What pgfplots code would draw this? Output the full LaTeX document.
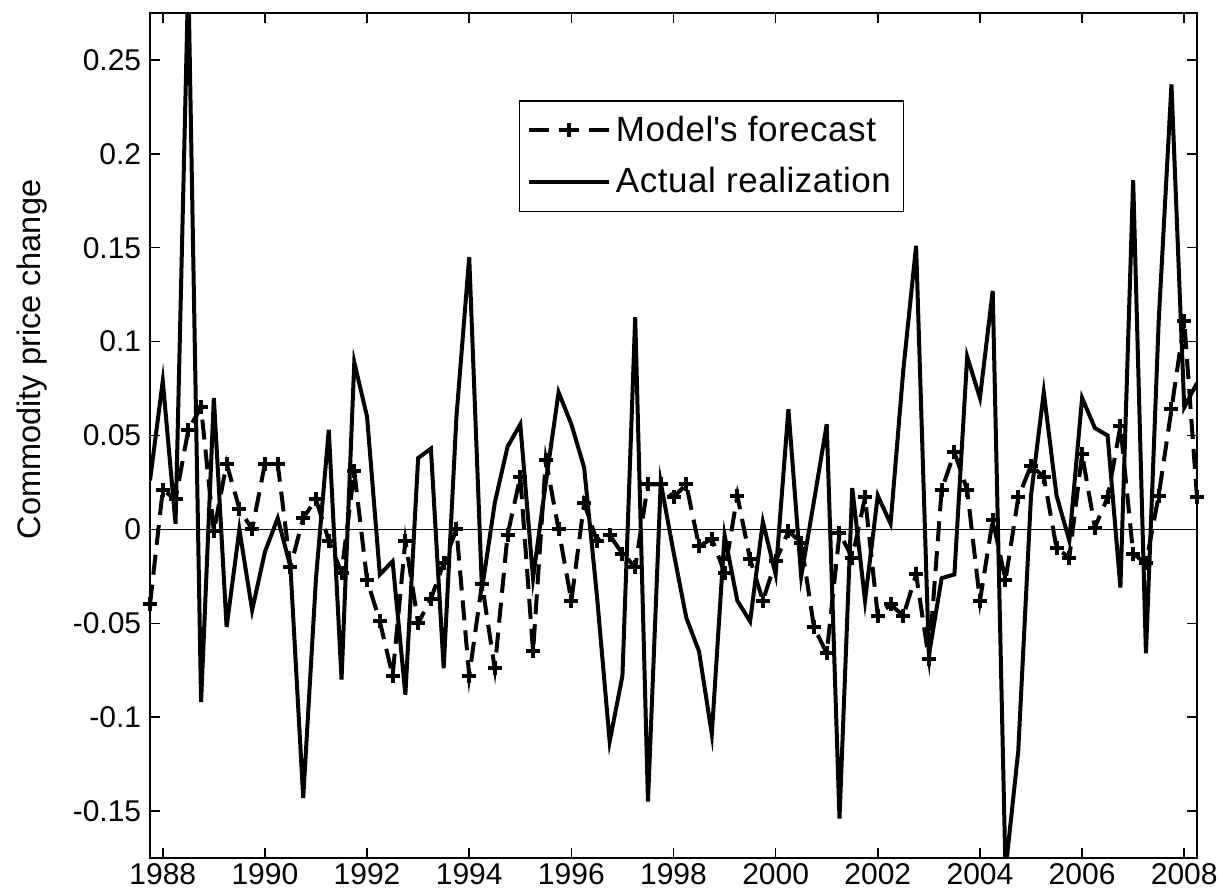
\documentclass[border=0pt]{standalone}
\usepackage{fontspec}
\setmainfont{Liberation Sans}
\newfontfamily\legendfont[LetterSpace=1.5]{Liberation Sans}
\usepackage{pgfplots}
\usepackage{pgfplotstable}
\pgfplotsset{compat=1.18}

% quarterly data, 1987Q4 .. 2008Q2
\pgfplotstableread{
t       forecast actual
1987.75 -0.040  0.026
1988.00  0.021  0.079
1988.25  0.016  0.003
1988.50  0.053  0.295
1988.75  0.065 -0.092
1989.00 -0.001  0.070
1989.25  0.035 -0.052
1989.50  0.011  0.000
1989.75  0.000 -0.043
1990.00  0.035 -0.012
1990.25  0.035  0.006
1990.50 -0.020 -0.020
1990.75  0.006 -0.143
1991.00  0.016 -0.026
1991.25 -0.006  0.053
1991.50 -0.023 -0.080
1991.75  0.031  0.089
1992.00 -0.027  0.060
1992.25 -0.049 -0.024
1992.50 -0.078 -0.017
1992.75 -0.006 -0.088
1993.00 -0.050  0.038
1993.25 -0.037  0.043
1993.50 -0.018 -0.074
1993.75  0.000  0.060
1994.00 -0.078  0.145
1994.25 -0.029 -0.032
1994.50 -0.074  0.014
1994.75 -0.003  0.044
1995.00  0.028  0.056
1995.25 -0.065 -0.026
1995.50  0.037  0.025
1995.75  0.000  0.073
1996.00 -0.038  0.056
1996.25  0.014  0.033
1996.50 -0.006 -0.035
1996.75 -0.003 -0.113
1997.00 -0.013 -0.078
1997.25 -0.020  0.113
1997.50  0.024 -0.145
1997.75  0.024  0.025
1998.00  0.017 -0.012
1998.25  0.024 -0.047
1998.50 -0.009 -0.065
1998.75 -0.005 -0.109
1999.00 -0.023 -0.003
1999.25  0.018 -0.038
1999.50 -0.016 -0.049
1999.75 -0.038  0.004
2000.00 -0.017 -0.024
2000.25 -0.001  0.064
2000.50 -0.007 -0.025
2000.75 -0.052  0.015
2001.00 -0.066  0.056
2001.25 -0.002 -0.154
2001.50 -0.015  0.022
2001.75  0.017 -0.038
2002.00 -0.046  0.018
2002.25 -0.040  0.003
2002.50 -0.046  0.085
2002.75 -0.024  0.151
2003.00 -0.069 -0.067
2003.25  0.021 -0.026
2003.50  0.041 -0.024
2003.75  0.021  0.092
2004.00 -0.038  0.070
2004.25  0.005  0.127
2004.50 -0.027 -0.182
2004.75  0.017 -0.118
2005.00  0.034  0.018
2005.25  0.028  0.073
2005.50 -0.010  0.018
2005.75 -0.015 -0.006
2006.00  0.040  0.070
2006.25  0.001  0.054
2006.50  0.017  0.050
2006.75  0.055 -0.031
2007.00 -0.013  0.186
2007.25 -0.018 -0.066
2007.50  0.018  0.111
2007.75  0.064  0.237
2008.00  0.111  0.065
2008.25  0.017  0.078
}\commodity

\begin{document}
\begin{tikzpicture}
\begin{axis}[
    at={(0,0)}, anchor=south west,
    scale only axis,
    width=418.8pt, height=338pt,
    xmin=1987.75, xmax=2008.25,
    ymin=-0.175, ymax=0.275,
    xtick={1988,1990,...,2008},
    xticklabels={1988,1990,1992,1994,1996,1998,2000,2002,2004,2006,2008},
    ytick={-0.15,-0.1,-0.05,0,0.05,0.1,0.15,0.2,0.25},
    yticklabels={-0.15,-0.1,-0.05,0,0.05,0.1,0.15,0.2,0.25},
    tick pos=both, tick align=inside,
    major tick length=4pt,
    axis line style={line width=0.6pt},
    tick style={line width=0.6pt, black},
    ticklabel style={font=\fontsize{12}{14}\selectfont},
    xticklabel style={yshift=1.5pt},
    ylabel={Commodity price change},
    ylabel style={font=\fontsize{13}{15}\selectfont,
        at={(axis description cs:-0.113,0.59)}, anchor=center},
    legend style={at={(axis cs:1994.97,0.2286)}, anchor=north west,
        font=\legendfont\fontsize{14}{16}\selectfont, draw=black, line width=0.6pt,
        inner xsep=3pt, inner ysep=4pt, row sep=5pt},
    legend cell align=left,
    legend image code/.code={
        \draw[mark repeat=2, mark phase=2, #1]
            plot coordinates {(0pt,0pt) (16pt,0pt) (32pt,0pt)};
    },
]
\addplot[black, line width=0.6pt, forget plot] coordinates {(1987.75,0) (2008.25,0)};
\addplot[black, line width=1.6pt, dash pattern=on 8pt off 4pt,
    mark=+, mark size=2.8pt, mark options={solid, line width=1.6pt}]
    table[x=t, y=forecast] {\commodity};
\addlegendentry{Model\textquotesingle s forecast}
\addplot[black, line width=1.6pt] table[x=t, y=actual] {\commodity};
\addlegendentry{Actual realization}
\end{axis}
\pgfresetboundingbox
\path (-60pt,-12pt) rectangle (429.2pt,343.2pt);
\end{tikzpicture}
\end{document}
